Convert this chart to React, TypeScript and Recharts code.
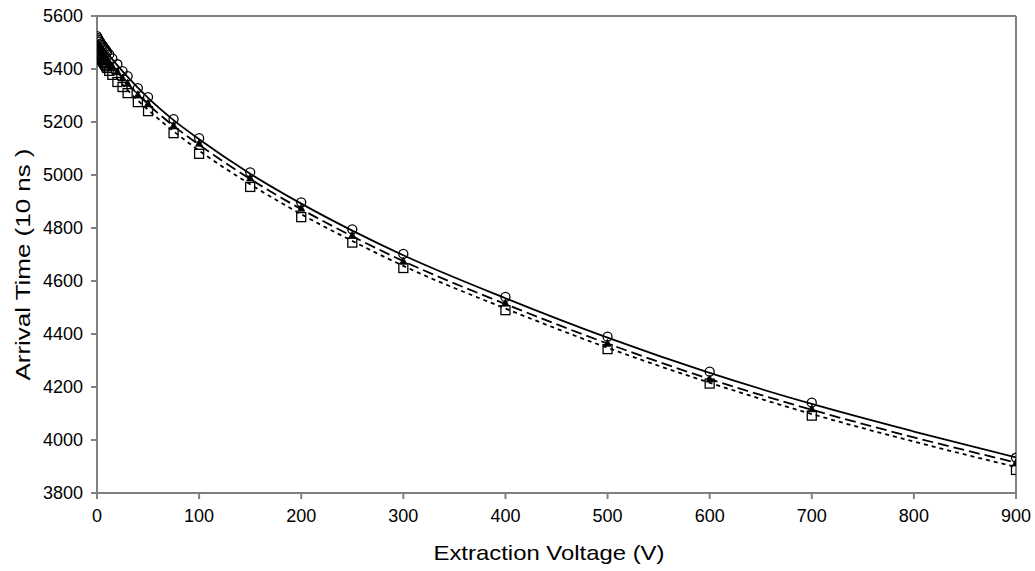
import React from 'react';
import { ComposedChart, Line, Scatter, XAxis, YAxis, ReferenceLine } from 'recharts';

const voltages = [0, 1, 2, 3, 4, 5, 6, 7, 8, 9, 10, 12, 15, 20, 25, 30, 40, 50, 75, 100, 150, 200, 250, 300, 400, 500, 600, 700, 900];
const circleTimes = [5524, 5516, 5509, 5503, 5497, 5491, 5486, 5480, 5475, 5470, 5464, 5455, 5440, 5418, 5392, 5373, 5328, 5294, 5211, 5139, 5010, 4897, 4795, 4702, 4540, 4390, 4258, 4141, 3933];
const triangleTimes = [5495, 5488, 5481, 5475, 5469, 5463, 5457, 5451, 5446, 5440, 5435, 5425, 5410, 5390, 5366, 5346, 5303, 5270, 5187, 5120, 4989, 4875, 4773, 4675, 4517, 4365, 4230, 4118, 3914];
const squareTimes = [5468, 5461, 5454, 5447, 5440, 5434, 5428, 5422, 5416, 5410, 5404, 5393, 5378, 5351, 5332, 5309, 5275, 5241, 5158, 5080, 4955, 4841, 4745, 4649, 4490, 4343, 4213, 4092, 3887];

const fitVoltages = [0, 10, 20, 30, 50, 75, 100, 150, 200, 250, 300, 400, 500, 600, 700, 800, 900];
const fitSolid = [5512, 5460, 5414, 5370, 5291, 5207, 5135, 5005, 4892, 4790, 4697, 4535, 4386, 4253, 4136, 4032, 3934];
const fitLongDash = [5488, 5434, 5388, 5345, 5267, 5185, 5114, 4985, 4871, 4769, 4675, 4513, 4364, 4230, 4114, 4010, 3915];
const fitShortDash = [5462, 5407, 5362, 5320, 5246, 5165, 5092, 4965, 4852, 4751, 4657, 4496, 4348, 4216, 4098, 3994, 3898];

const xTicks = [0, 100, 200, 300, 400, 500, 600, 700, 800, 900];
const yTicks = [3800, 4000, 4200, 4400, 4600, 4800, 5000, 5200, 5400, 5600];

const toPoints = (xs: number[], ys: number[]) => xs.map((x, i) => ({ x, y: ys[i] }));

const circleData = toPoints(voltages, circleTimes);
const triangleData = toPoints(voltages, triangleTimes);
const squareData = toPoints(voltages, squareTimes);
const solidData = toPoints(fitVoltages, fitSolid);
const longData = toPoints(fitVoltages, fitLongDash);
const shortData = toPoints(fitVoltages, fitShortDash);

const FONT = '"Liberation Sans", Arial, sans-serif';
const AXIS = '#808080';

const CircleShape = (p: any) => (
  <circle cx={p.cx} cy={p.cy} r={4.5} fill="none" stroke="#000" strokeWidth={1.3} />
);
const TriangleShape = (p: any) => (
  <polygon
    points={`${p.cx},${p.cy - 4} ${p.cx - 3.5},${p.cy + 3} ${p.cx + 3.5},${p.cy + 3}`}
    fill="#000"
    stroke="#000"
    strokeWidth={0.8}
  />
);
const SquareShape = (p: any) => (
  <rect x={p.cx - 4.5} y={p.cy - 4.5} width={9} height={9} fill="none" stroke="#000" strokeWidth={1.3} />
);

const YLabel = (props: any) => {
  const vb = props.viewBox || { x: 0, y: 16, width: 97, height: 477 };
  const x = vb.x + 22;
  const y = vb.y + vb.height / 2 + 10;
  return (
    <text
      x={x}
      y={y}
      transform={`rotate(-90 ${x} ${y})`}
      textAnchor="middle"
      dominantBaseline="central"
      fontFamily={FONT}
      fontSize={21}
      textLength={232}
      lengthAdjust="spacingAndGlyphs"
      fill="#000"
    >
      Arrival Time (10 ns )
    </text>
  );
};

const XLabel = () => (
  <text
    x={549}
    y={552}
    textAnchor="middle"
    dominantBaseline="central"
    fontFamily={FONT}
    fontSize={21}
    textLength={231}
    lengthAdjust="spacingAndGlyphs"
    fill="#000"
  >
    Extraction Voltage (V)
  </text>
);

export default function App() {
  return (
    <div style={{ position: 'absolute', left: 0, top: 0, width: 1035, height: 571, background: '#fff' }}>
      <ComposedChart width={1035} height={571} margin={{ top: 16, right: 19, left: 0, bottom: 18 }}>
        <XAxis
          dataKey="x"
          type="number"
          domain={[0, 900]}
          ticks={xTicks}
          interval={0}
          allowDataOverflow
          height={60}
          tickSize={6}
          tickMargin={10}
          stroke={AXIS}
          strokeWidth={2}
          tick={{ fill: '#000', fontSize: 18, fontFamily: FONT }}
          label={<XLabel />}
        />
        <YAxis
          dataKey="y"
          type="number"
          domain={[3800, 5600]}
          ticks={yTicks}
          interval={0}
          allowDataOverflow
          width={97}
          tickSize={6}
          tickMargin={8}
          stroke={AXIS}
          strokeWidth={2}
          tick={{ fill: '#000', fontSize: 18, fontFamily: FONT }}
          label={<YLabel />}
        />
        <ReferenceLine y={5600} stroke={AXIS} strokeWidth={2} />
        <ReferenceLine x={900} stroke={AXIS} strokeWidth={2} />
        <Line data={solidData} dataKey="y" type="monotone" stroke="#000" strokeWidth={1.8} dot={false} activeDot={false} isAnimationActive={false} />
        <Line data={longData} dataKey="y" type="monotone" stroke="#000" strokeWidth={1.8} strokeDasharray="11 5" dot={false} activeDot={false} isAnimationActive={false} />
        <Line data={shortData} dataKey="y" type="monotone" stroke="#000" strokeWidth={1.8} strokeDasharray="4 4" dot={false} activeDot={false} isAnimationActive={false} />
        <Scatter data={circleData} dataKey="y" shape={CircleShape} isAnimationActive={false} />
        <Scatter data={squareData} dataKey="y" shape={SquareShape} isAnimationActive={false} />
        <Scatter data={triangleData} dataKey="y" shape={TriangleShape} isAnimationActive={false} />
      </ComposedChart>
    </div>
  );
}
